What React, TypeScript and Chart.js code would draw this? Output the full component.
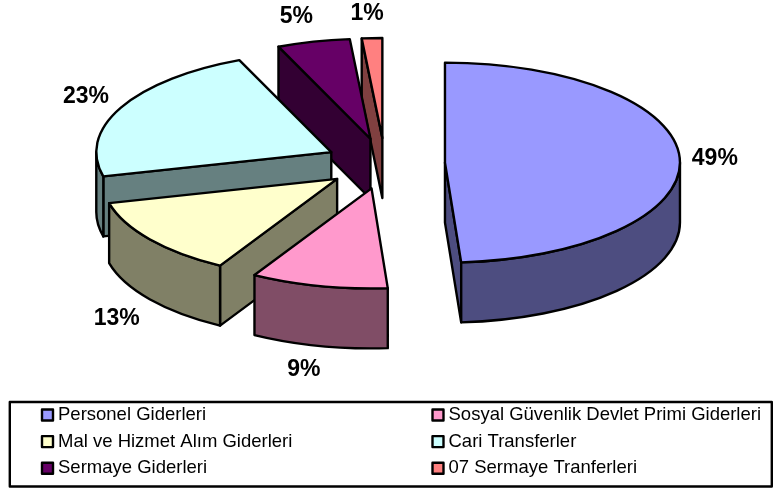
import React, { useEffect, useRef } from "react";
import { Chart, registerables } from "chart.js";

Chart.register(...registerables);

const categories = [
  "Personel Giderleri",
  "Sosyal Güvenlik Devlet Primi Giderleri",
  "Mal ve Hizmet Alım Giderleri",
  "Cari Transferler",
  "Sermaye Giderleri",
  "07 Sermaye Tranferleri",
];
const shares = [48.9, 9.4, 12.8, 22.5, 5.0, 1.4];
const percentLabels = ["49%", "9%", "13%", "23%", "5%", "1%"];
const topColors = ["#9999FF", "#FF99CC", "#FFFFCC", "#CCFFFF", "#660066", "#FF8080"];
const wallColors = ["#4D4D80", "#804D66", "#808066", "#668080", "#330033", "#804040"];
const labelNudges = [
  [35, -1],
  [-15, 24],
  [-33, 19],
  [-35, -11],
  [-17, -25],
  [-5, -24],
];

const FLATTEN = 0.4255;
const DEPTH = 60;
const RIM_RADIUS = 235;
const EXPLODE = 60;
const EDGE = 2.4;

const geom = (arc: any) => {
  const mid = (arc.startAngle + arc.endAngle) / 2;
  const r = arc.outerRadius;
  return {
    mid,
    ax: arc.x + Math.cos(mid) * EXPLODE,
    ay: arc.y + Math.sin(mid) * EXPLODE * FLATTEN,
    r,
    ry: r * FLATTEN,
    s: arc.startAngle,
    e: arc.endAngle,
  };
};

const pie3d = {
  id: "pie3d",
  beforeDatasetsDraw(chart: any) {
    const ctx = chart.ctx;
    const arcs = chart.getDatasetMeta(0).data as any[];
    const paint = (fill: string) => {
      ctx.fillStyle = fill;
      ctx.fill();
      ctx.lineWidth = EDGE;
      ctx.strokeStyle = "#000";
      ctx.lineJoin = "round";
      ctx.stroke();
    };
    const face = (g: any, a: number, fill: string) => {
      const px = g.ax + Math.cos(a) * g.r;
      const py = g.ay + Math.sin(a) * g.ry;
      ctx.beginPath();
      ctx.moveTo(g.ax, g.ay);
      ctx.lineTo(px, py);
      ctx.lineTo(px, py + DEPTH);
      ctx.lineTo(g.ax, g.ay + DEPTH);
      ctx.closePath();
      paint(fill);
    };
    for (let i = arcs.length - 1; i >= 0; i--) {
      const arc = arcs[i];
      const g = geom(arc);
      const wall = wallColors[i];
      if (Math.cos(g.s) < 0) face(g, g.s, wall);
      if (Math.cos(g.e) > 0) face(g, g.e, wall);
      const lo = Math.max(g.s, 0);
      const hi = Math.min(g.e, Math.PI);
      if (hi > lo) {
        ctx.beginPath();
        ctx.ellipse(g.ax, g.ay, g.r, g.ry, 0, lo, hi);
        ctx.ellipse(g.ax, g.ay + DEPTH, g.r, g.ry, 0, hi, lo, true);
        ctx.closePath();
        paint(wall);
      }
      ctx.save();
      ctx.translate(g.ax - arc.x, g.ay - arc.y + arc.y * (1 - FLATTEN));
      ctx.scale(1, FLATTEN);
      arc.draw(ctx);
      ctx.restore();
      ctx.beginPath();
      ctx.moveTo(g.ax, g.ay);
      ctx.ellipse(g.ax, g.ay, g.r, g.ry, 0, g.s, g.e);
      ctx.closePath();
      ctx.lineWidth = EDGE;
      ctx.strokeStyle = "#000";
      ctx.lineJoin = "round";
      ctx.stroke();
    }
    return false;
  },
  afterDraw(chart: any) {
    const ctx = chart.ctx;
    const arcs = chart.getDatasetMeta(0).data as any[];
    ctx.save();
    ctx.fillStyle = "#000";
    ctx.font = 'bold 23px "Liberation Sans", Arial, sans-serif';
    ctx.textAlign = "center";
    ctx.textBaseline = "middle";
    arcs.forEach((arc, i) => {
      const g = geom(arc);
      const x = g.ax + Math.cos(g.mid) * g.r;
      const y = g.ay + Math.sin(g.mid) * g.ry + (Math.sin(g.mid) > 0.2 ? DEPTH : 0);
      ctx.fillText(percentLabels[i], x + labelNudges[i][0], y + labelNudges[i][1]);
    });
    ctx.lineWidth = 2.4;
    ctx.strokeStyle = "#000";
    ctx.strokeRect(9.8, 402, 762, 84.5);
    ctx.font = '18.5px "Liberation Sans", Arial, sans-serif';
    ctx.textAlign = "left";
    categories.forEach((name, i) => {
      const col = i % 2;
      const row = Math.floor(i / 2);
      const sx = col === 0 ? 42 : 432.5;
      const cy = 415 + row * 26.6;
      ctx.fillStyle = topColors[i];
      ctx.fillRect(sx, cy - 5.5, 11, 11);
      ctx.lineWidth = 2.4;
      ctx.strokeStyle = "#000";
      ctx.strokeRect(sx, cy - 5.5, 11, 11);
      ctx.fillStyle = "#000";
      ctx.fillText(name, sx + 16, cy);
    });
    ctx.restore();
  },
};

export default function App() {
  const ref = useRef<HTMLCanvasElement>(null);
  useEffect(() => {
    document.body.style.margin = "0";
    document.body.style.background = "#fff";
    const chart = new Chart(ref.current!, {
      type: "pie",
      data: {
        labels: categories,
        datasets: [
          {
            data: shares,
            backgroundColor: topColors,
            borderWidth: 0,
            hoverOffset: 0,
          } as any,
        ],
      },
      options: {
        responsive: false,
        animation: false,
        devicePixelRatio: 1,
        radius: RIM_RADIUS,
        layout: { padding: { left: 0, right: 13, top: 0, bottom: 161 } },
        plugins: { legend: { display: false }, tooltip: { enabled: false } },
      } as any,
      plugins: [pie3d as any],
    });
    return () => chart.destroy();
  }, []);
  return (
    <div style={{ position: "absolute", left: 0, top: 0, width: 783, height: 488 }}>
      <canvas ref={ref} width={783} height={488} style={{ display: "block" }} />
    </div>
  );
}
